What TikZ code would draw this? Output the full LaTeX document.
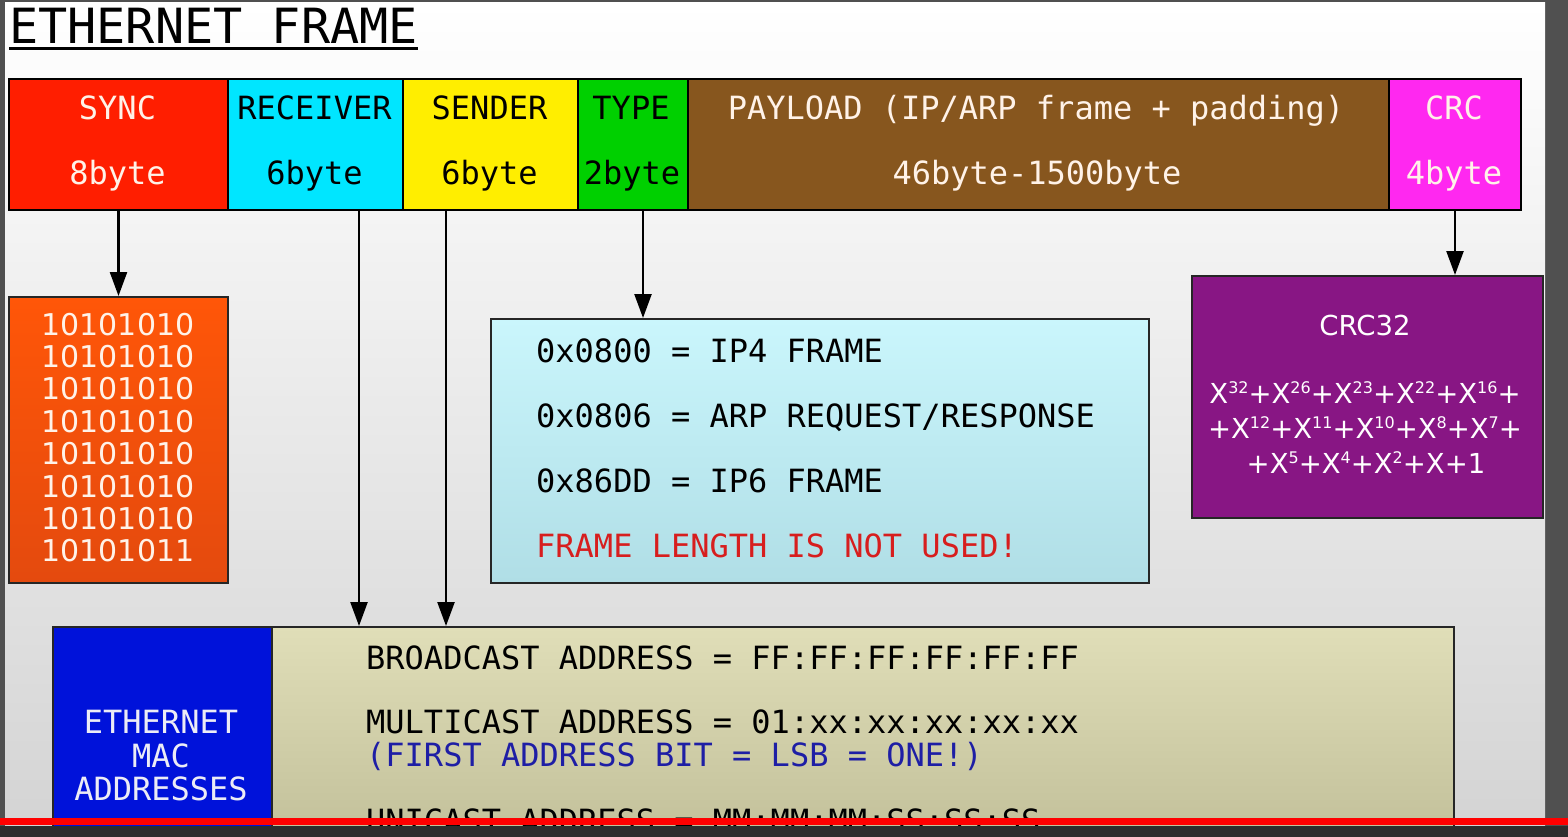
\documentclass[tikz,border=0pt]{standalone}
\usepackage{fontspec}
\setmainfont{DejaVu Sans}
\newfontfamily\mono{DejaVu Sans Mono}
\usetikzlibrary{arrows.meta}
\definecolor{bggray}{RGB}{80,80,80}
\definecolor{bardark}{RGB}{45,45,45}
\definecolor{slidebot}{RGB}{212,212,212}
\definecolor{slidemid}{RGB}{248,248,248}
\definecolor{syncred}{RGB}{255,30,0}
\definecolor{rcvcyan}{RGB}{0,230,255}
\definecolor{sndyellow}{RGB}{255,238,0}
\definecolor{typegreen}{RGB}{0,208,0}
\definecolor{paybrown}{RGB}{135,86,30}
\definecolor{crcmag}{RGB}{255,40,240}
\definecolor{orangetop}{RGB}{255,86,8}
\definecolor{orangebot}{RGB}{228,74,14}
\definecolor{lbtop}{RGB}{202,246,252}
\definecolor{lbbot}{RGB}{176,222,230}
\definecolor{purplebox}{RGB}{136,22,132}
\definecolor{macblue}{RGB}{0,18,218}
\definecolor{beigetop}{RGB}{224,222,184}
\definecolor{beigebot}{RGB}{190,188,150}
\definecolor{redtext}{RGB}{215,30,30}
\definecolor{bluetext}{RGB}{30,30,165}
\definecolor{cream}{RGB}{255,242,232}
\definecolor{ltext}{RGB}{236,236,246}
\newcommand\pw[1]{\raisebox{9.5pt}{\fontsize{16}{16}\selectfont #1}}
\begin{document}
\begin{tikzpicture}[x=1pt,y=-1pt,
  field/.style={draw=black, line width=2pt, minimum height=131pt, inner sep=0pt, anchor=north west},
  box/.style={draw=black!85, line width=2pt, inner sep=0pt, anchor=north west},
  lbl/.style={font=\mono\fontsize{32}{32}\selectfont, anchor=base, inner sep=0pt},
  lline/.style={font=\mono\fontsize{32}{32}\selectfont, anchor=base west, inner sep=0pt},
  bits/.style={font=\fontsize{30}{30}\selectfont, text=cream, anchor=base, inner sep=0pt},
  poly/.style={font=\fontsize{27.5}{27.5}\selectfont, text=white, anchor=base, inner sep=0pt},
  arr/.style={line width=2.4pt, -{Triangle[length=24pt,width=17pt]}}]
\useasboundingbox (0,0) rectangle (1568,837);
\fill[bggray] (0,0) rectangle (1568,837);
\shade[top color=white, middle color=slidemid, bottom color=slidebot] (5,3) rectangle (1545,827);
% title
\node[anchor=base west, inner sep=0pt, font=\mono\fontsize{48.5}{48.5}\selectfont] (title) at (9,44) {ETHERNET FRAME};
\draw[line width=3pt] ([yshift=-5pt]title.base west) -- ([yshift=-5pt]title.base east);
% frame fields
\node[field, fill=syncred, minimum width=219pt] (sync) at (8,78) {};
\node[field, fill=rcvcyan, minimum width=175pt] (rcv) at (227,78) {};
\node[field, fill=sndyellow, minimum width=175pt] (snd) at (402,78) {};
\node[field, fill=typegreen, minimum width=110pt] (type) at (577,78) {};
\node[field, fill=paybrown, minimum width=701pt] (pay) at (687,78) {};
\node[field, fill=crcmag, minimum width=132pt] (crc) at (1388,78) {};
\node[lbl, text=cream] (synca) at (117.5,120) {SYNC};
\node[lbl, text=cream] (syncb) at (117.5,185) {8byte};
\node[lbl] (rcva) at (314.5,120) {RECEIVER};
\node[lbl] (rcvb) at (314.5,185) {6byte};
\node[lbl] (snda) at (489.5,120) {SENDER};
\node[lbl] (sndb) at (489.5,185) {6byte};
\node[lbl] (typea) at (631,120) {TYPE};
\node[lbl] (typeb) at (632,185) {2byte};
\node[lbl, text=cream] (paya) at (1036,120) {PAYLOAD (IP/ARP frame + padding)};
\node[lbl, text=cream] (payb) at (1037,185) {46byte-1500byte};
\node[lbl, text=cream] (crca) at (1454,120) {CRC};
\node[lbl, text=cream] (crcb) at (1454,185) {4byte};
% sync bits
\node[box, top color=orangetop, bottom color=orangebot, minimum width=219pt, minimum height=286pt] (syncbits) at (8,296) {};
\foreach \i/\t in {0/10101010,1/10101010,2/10101010,3/10101010,4/10101010,5/10101010,6/10101010,7/10101011}
  \node[bits] (bit\i) at (118,{335+32.4*\i}) {\t};
% type box
\node[box, top color=lbtop, bottom color=lbbot, minimum width=658pt, minimum height=264pt] (typebox) at (490,318) {};
\node[lline] (t1) at (536,362) {0x0800 = IP4 FRAME};
\node[lline] (t2) at (536,427) {0x0806 = ARP REQUEST/RESPONSE};
\node[lline] (t3) at (536,492) {0x86DD = IP6 FRAME};
\node[lline, text=redtext] (t4) at (536,557) {FRAME LENGTH IS NOT USED!};
% crc32 box
\node[box, fill=purplebox, minimum width=351pt, minimum height=242pt] (crcpoly) at (1191,275) {};
\node[poly] (crct) at (1365,335) {CRC32};
\node[poly] (p1) at (1365,403) {X\pw{32}+X\pw{26}+X\pw{23}+X\pw{22}+X\pw{16}+};
\node[poly] (p2) at (1365,438) {+X\pw{12}+X\pw{11}+X\pw{10}+X\pw{8}+X\pw{7}+};
\node[poly] (p3) at (1366,473) {+X\pw{5}+X\pw{4}+X\pw{2}+X+1};
% MAC addresses
\node[box, fill=macblue, minimum width=219pt, minimum height=240pt] (macl) at (52,626) {};
\node[box, top color=beigetop, bottom color=beigebot, minimum width=1182pt, minimum height=240pt] (mac) at (271,626) {};
\node[lbl, text=ltext] (m1) at (161,733) {ETHERNET};
\node[lbl, text=ltext] (m2) at (161,767) {MAC};
\node[lbl, text=ltext] (m3) at (161,800) {ADDRESSES};
\node[lline] (a1) at (366,669) {BROADCAST ADDRESS = FF:FF:FF:FF:FF:FF};
\node[lline] (a2) at (366,733) {MULTICAST ADDRESS = 01:xx:xx:xx:xx:xx};
\node[lline, text=bluetext] (a3) at (366,766) {(FIRST ADDRESS BIT = LSB = ONE!)};
\node[lline] (a4) at (366,832) {UNICAST ADDRESS   = MM:MM:MM:SS:SS:SS};
% connectors
\coordinate (xr) at (359,0);
\coordinate (xs) at (446,0);
\coordinate (xt) at (643,0);
\draw[arr] (sync.south) -- (sync.south |- syncbits.north);
\draw[arr] (rcv.south -| xr) -- (mac.north -| xr);
\draw[arr] (snd.south -| xs) -- (mac.north -| xs);
\draw[arr] (type.south -| xt) -- (typebox.north -| xt);
\draw[arr] (crc.south) -- (crc.south |- crcpoly.north);
% video bar
\fill[bardark] (0,826) rectangle (1568,837);
\fill[red] (0,818) rectangle (1568,825);
\end{tikzpicture}
\end{document}
